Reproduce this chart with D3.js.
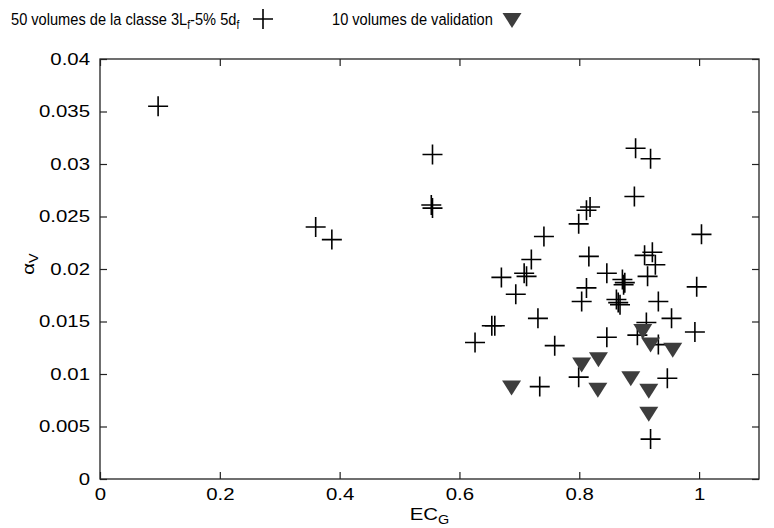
<!DOCTYPE html>
<html>
<head>
<meta charset="utf-8">
<script src="https://cdn.jsdelivr.net/npm/d3@7"></script>
<style>
  body { margin: 0; background: #fff; }
  svg text { font-family: "Liberation Sans", Arial, Helvetica, sans-serif; fill: #000; }
</style>
</head>
<body>
<div id="chart"></div>
<script>
// 50 volumes of class 3Lf-5% 5df (plus markers)
const classX = [0.097, 0.360, 0.387, 0.555, 0.553, 0.555, 0.894, 0.919, 0.892, 0.812,
                0.818, 0.799, 0.741, 1.004, 0.816, 0.720, 0.708, 0.712, 0.670, 0.694,
                0.922, 0.909, 0.927, 0.914, 0.846, 0.872, 0.876, 0.812, 0.804, 0.862,
                0.865, 0.868, 0.932, 0.996, 0.954, 0.912, 0.846, 0.897, 0.993, 0.932,
                0.654, 0.659, 0.626, 0.731, 0.759, 0.799, 0.734, 0.947, 0.919, 0.874];
const classY = [0.0355, 0.0240, 0.0228, 0.0309, 0.0261, 0.0258, 0.0315, 0.0305, 0.0269, 0.0256,
                0.0259, 0.0243, 0.0231, 0.0233, 0.0212, 0.0209, 0.0196, 0.0193, 0.0192, 0.0176,
                0.0216, 0.0213, 0.0204, 0.0193, 0.0196, 0.0190, 0.0187, 0.0182, 0.0169, 0.0171,
                0.0168, 0.0166, 0.0169, 0.0183, 0.0153, 0.0149, 0.0135, 0.0137, 0.0140, 0.0128,
                0.0146, 0.0146, 0.0130, 0.0153, 0.0127, 0.0097, 0.0088, 0.0096, 0.0038, 0.0185];

// 10 validation volumes (filled down triangles)
const validX = [0.687, 0.804, 0.832, 0.831, 0.886, 0.916, 0.916, 0.906, 0.919, 0.956];
const validY = [0.0088, 0.0110, 0.0115, 0.0086, 0.0097, 0.0085, 0.0063, 0.0142, 0.0129, 0.0124];

const xTicks = [0, 0.2, 0.4, 0.6, 0.8, 1];
const xTickLabels = ['0', '0.2', '0.4', '0.6', '0.8', '1'];
const yTicks = [0, 0.005, 0.01, 0.015, 0.02, 0.025, 0.03, 0.035, 0.04];
const yTickLabels = ['0', '0.005', '0.01', '0.015', '0.02', '0.025', '0.03', '0.035', '0.04'];

const W = 774, H = 528;
const margin = { top: 59, right: 15, bottom: 49, left: 100 };
const width = W - margin.left - margin.right;
const height = H - margin.top - margin.bottom;

const svg = d3.select('#chart')
    .append('svg')
    .attr('width', W)
    .attr('height', H);

const g = svg.append('g')
    .attr('transform', `translate(${margin.left}, ${margin.top})`);

const xScale = d3.scaleLinear().domain([0, 1.1]).range([0, width]);
const yScale = d3.scaleLinear().domain([0, 0.04]).range([height, 0]);

const sx = 1.2; // wide look of the tick labels
const tickLen = 7;

// bottom axis with labels
const xAxis = g.append('g')
    .attr('transform', `translate(0, ${height})`)
    .call(d3.axisBottom(xScale)
        .tickValues(xTicks)
        .tickFormat((d, i) => xTickLabels[i])
        .tickSizeInner(-tickLen)
        .tickSizeOuter(0)
        .tickPadding(9));

// left axis with labels
const yAxis = g.append('g')
    .call(d3.axisLeft(yScale)
        .tickValues(yTicks)
        .tickFormat((d, i) => yTickLabels[i])
        .tickSizeInner(-tickLen)
        .tickSizeOuter(0)
        .tickPadding(10));

// mirrored ticks on top and right
const xTop = g.append('g')
    .call(d3.axisTop(xScale).tickValues(xTicks).tickFormat('').tickSizeInner(-tickLen).tickSizeOuter(0));
const yRight = g.append('g')
    .attr('transform', `translate(${width}, 0)`)
    .call(d3.axisRight(yScale).tickValues(yTicks).tickFormat('').tickSizeInner(-tickLen).tickSizeOuter(0));

[xAxis, yAxis, xTop, yRight].forEach(a => {
    a.select('.domain').remove();
    a.selectAll('line').attr('stroke', '#222').attr('stroke-width', 1.2);
    a.attr('font-family', null).attr('font-size', null);
});

xAxis.selectAll('text')
    .style('font-size', '17px')
    .attr('transform', `scale(${sx},1)`)
    .attr('y', 9);

yAxis.selectAll('text')
    .style('font-size', '17px')
    .attr('x', -10 / sx)
    .attr('transform', `scale(${sx},1)`);

g.append('rect')
    .attr('x', 0)
    .attr('y', 0)
    .attr('width', width)
    .attr('height', height)
    .attr('fill', 'none')
    .attr('stroke', '#222')
    .attr('stroke-width', 1.3);

// markers
const plusPath = 'M-10,0H10M0,-10V10';
const triPath = 'M-9.5,-6L9.5,-6L0,9Z';

const classData = classX.map((x, i) => ({ x: x, y: classY[i] }));
const validData = validX.map((x, i) => ({ x: x, y: validY[i] }));

g.selectAll('.plus')
    .data(classData)
    .enter()
    .append('path')
    .attr('class', 'plus')
    .attr('d', plusPath)
    .attr('transform', d => `translate(${xScale(d.x)}, ${yScale(d.y)})`)
    .attr('fill', 'none')
    .attr('stroke', '#000')
    .attr('stroke-width', 1.6);

g.selectAll('.tri')
    .data(validData)
    .enter()
    .append('path')
    .attr('class', 'tri')
    .attr('d', triPath)
    .attr('transform', d => `translate(${xScale(d.x)}, ${yScale(d.y)})`)
    .attr('fill', '#3d3d3d');

// axis titles
const xLabel = svg.append('text')
    .attr('transform', `translate(${margin.left + width / 2}, 520) scale(${sx},1)`)
    .attr('text-anchor', 'middle')
    .style('font-size', '17px');
xLabel.append('tspan').text('EC');
xLabel.append('tspan').attr('dy', 4).style('font-size', '12px').text('G');

const yLabel = svg.append('text')
    .attr('transform', `translate(34, 264) rotate(-90) scale(${sx},1)`)
    .attr('text-anchor', 'middle')
    .style('font-size', '17px');
yLabel.append('tspan').text('α');
yLabel.append('tspan').attr('dy', 4).style('font-size', '12px').text('V');

// legend
const lsx = 0.86;
const leg1 = svg.append('text')
    .attr('transform', `translate(11, 25) scale(${lsx},1)`)
    .style('font-size', '17px');
leg1.append('tspan').text('50 volumes de la classe 3L');
leg1.append('tspan').attr('dy', 4).style('font-size', '12px').text('f');
leg1.append('tspan').attr('dy', -4).text('-5% 5d');
leg1.append('tspan').attr('dy', 4).style('font-size', '12px').text('f');

svg.append('path')
    .attr('d', plusPath)
    .attr('transform', 'translate(263, 19)')
    .attr('fill', 'none')
    .attr('stroke', '#000')
    .attr('stroke-width', 1.6);

svg.append('text')
    .attr('transform', `translate(332, 25) scale(${lsx},1)`)
    .style('font-size', '17px')
    .text('10 volumes de validation');

svg.append('path')
    .attr('d', triPath)
    .attr('transform', 'translate(512, 19)')
    .attr('fill', '#3d3d3d');
</script>
</body>
</html>
